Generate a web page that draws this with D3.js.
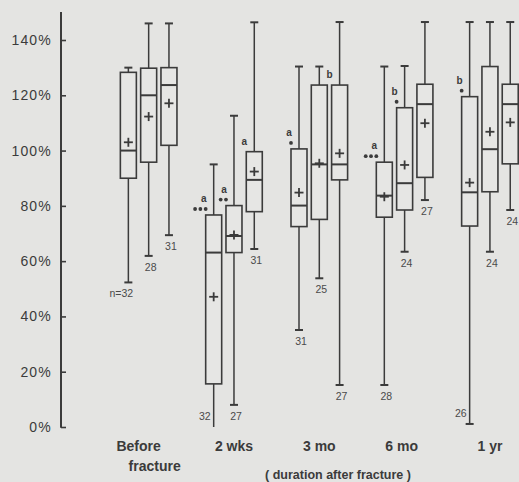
<!DOCTYPE html>
<html>
<head>
<meta charset="utf-8">
<script src="https://cdn.jsdelivr.net/npm/d3@7"></script>
<style>
  html, body { margin: 0; padding: 0; background: #e4e4e2; }
  svg { display: block; }
</style>
</head>
<body>
<svg id="chart" width="519" height="482"></svg>
<script>
// ---------- DATA ----------
const groups = ["Before fracture", "2 wks", "3 mo", "6 mo", "1 yr"];
const subIndex = [0, 1, 2];
const yTicks = [0, 20, 40, 60, 80, 100, 120, 140];

// 15 boxes: 3 per group, in group order
const boxGroup   = [0,0,0, 1,1,1, 2,2,2, 3,3,3, 4,4,4];
const boxSub     = [0,1,2, 0,1,2, 0,1,2, 0,1,2, 0,1,2];
const whiskerHigh = [130, 146, 146,   95, 112.6, 146.4,  130.4, 130.4, 146.5,  130.4, 130.6, 146.5,  146.5, 146.5, 146.5];
const q3          = [128.3, 129.8, 130, 76.7, 80.1, 99.6,  100.6, 123.7, 123.7,  95.8, 115.5, 124,    119.5, 130.4, 124];
const medians     = [100, 120, 123.7,  63.1, 69.1, 89.4,   80.1, 95, 95,        83.7, 88.2, 116.8,   84.9, 100.5, 116.8];
const q1          = [90, 95.8, 101.9,  15.6, 63.1, 77.9,   72.5, 75.1, 89.4,    75.9, 78.5, 90.3,    72.7, 85.1, 95.2];
const whiskerLow  = [52.3, 61.9, 69.4, 0, 8, 64.4,         35.1, 53.8, 15.2,    15.2, 63.4, 82.1,    1.1, 63.4, 78.5];
const means       = [103, 112.3, 117.1, 47.1, 69.5, 92.4,  84.8, 95.4, 99,      83.3, 94.8, 109.9,   88.4, 106.8, 110.2];
const nLabels     = ["n=32","28","31", "32","27","31", "31","25","27", "28","24","27", "26","24","24"];

// significance annotations: box index, letter, number of dots
const sigBox    = [3, 4, 5, 6, 8, 9, 10, 12];
const sigLetter = ["a","a","a","a","b","a","b","b"];
const sigDots   = [3, 2, 0, 1, 0, 3, 1, 1];

// ---------- LAYOUT ----------
const ink = "#3b3b3b";
const svg = d3.select("#chart");

const y = d3.scaleLinear().domain([0, 140]).range([427, 40]);
const x = d3.scaleBand().domain(groups).range([106, 532.6]).paddingInner(0).paddingOuter(0);
const sub = d3.scalePoint().domain(subIndex).range([-20.3, 20.3]);
const boxW = 16, capW = 8, plus = 4.5;

// label offsets (layout only)
const labelSide = ["left-below","below","below", "left","below","below", "below","below","below", "below","below","below", "left","below","below"];

const cx = i => x(groups[boxGroup[i]]) + x.bandwidth() / 2 + sub(boxSub[i]);

// ---------- AXIS ----------
const axisX = 61;
const yAxis = d3.axisRight(y).tickValues(yTicks).tickSize(5).tickFormat(d => d + "%");
const ga = svg.append("g").attr("transform", `translate(${axisX},0)`).call(yAxis);
ga.select(".domain").remove();
ga.selectAll(".tick line").attr("stroke", ink).attr("stroke-width", 1.6);
ga.selectAll(".tick text")
  .attr("x", -9).attr("text-anchor", "end")
  .attr("fill", ink)
  .style("font-family", "'Liberation Sans', Arial, sans-serif")
  .style("font-size", "14px")
  .style("letter-spacing", "1.2px");
svg.append("line").attr("x1", axisX).attr("x2", axisX).attr("y1", 12).attr("y2", y(0) + 0.8)
  .attr("stroke", ink).attr("stroke-width", 2);

// ---------- BOXES ----------
const idx = d3.range(whiskerHigh.length);
const gb = svg.append("g").attr("stroke", ink).attr("fill", "none");

// whiskers
gb.selectAll(".wh").data(idx).join("line")
  .attr("x1", cx).attr("x2", cx)
  .attr("y1", i => y(whiskerHigh[i])).attr("y2", i => y(q3[i]))
  .attr("stroke-width", 1.5);
gb.selectAll(".wl").data(idx).join("line")
  .attr("x1", cx).attr("x2", cx)
  .attr("y1", i => y(q1[i])).attr("y2", i => y(whiskerLow[i]))
  .attr("stroke-width", 1.5);
// caps
gb.selectAll(".ch").data(idx).join("line")
  .attr("x1", i => cx(i) - capW / 2).attr("x2", i => cx(i) + capW / 2)
  .attr("y1", i => y(whiskerHigh[i])).attr("y2", i => y(whiskerHigh[i]))
  .attr("stroke-width", 2);
gb.selectAll(".cl").data(idx.filter(i => whiskerLow[i] > 0)).join("line")
  .attr("x1", i => cx(i) - capW / 2).attr("x2", i => cx(i) + capW / 2)
  .attr("y1", i => y(whiskerLow[i])).attr("y2", i => y(whiskerLow[i]))
  .attr("stroke-width", 2);
// boxes
gb.selectAll(".bx").data(idx).join("rect")
  .attr("x", i => cx(i) - boxW / 2).attr("width", boxW)
  .attr("y", i => y(q3[i])).attr("height", i => y(q1[i]) - y(q3[i]))
  .attr("fill", "#e6e6e4").attr("stroke-width", 1.6);
// medians
gb.selectAll(".md").data(idx).join("line")
  .attr("x1", i => cx(i) - boxW / 2).attr("x2", i => cx(i) + boxW / 2)
  .attr("y1", i => y(medians[i])).attr("y2", i => y(medians[i]))
  .attr("stroke-width", 2);
// means (+)
gb.selectAll(".mh").data(idx).join("line")
  .attr("x1", i => cx(i) - plus).attr("x2", i => cx(i) + plus)
  .attr("y1", i => y(means[i])).attr("y2", i => y(means[i]))
  .attr("stroke-width", 1.8);
gb.selectAll(".mv").data(idx).join("line")
  .attr("x1", cx).attr("x2", cx)
  .attr("y1", i => y(means[i]) - plus).attr("y2", i => y(means[i]) + plus)
  .attr("stroke-width", 1.8);

// n labels
svg.append("g").selectAll("text").data(idx).join("text")
  .attr("x", i => {
    const s = labelSide[i];
    if (s === "left") return cx(i) - 3;
    if (s === "left-below") return cx(i) - 7;
    return cx(i) + 2;
  })
  .attr("y", i => {
    const s = labelSide[i];
    if (s === "left") return y(whiskerLow[i]) - 7;
    return y(whiskerLow[i]) + 15;
  })
  .attr("text-anchor", i => labelSide[i] === "left" ? "end" : "middle")
  .attr("fill", "#4a4a4a")
  .style("font-family", "'Liberation Sans', Arial, sans-serif")
  .style("font-size", "10.5px")
  .text(i => nLabels[i]);

// significance annotations
const sg = svg.append("g");
sigBox.forEach((b, k) => {
  const left = cx(b) - boxW / 2;
  const top = y(q3[b]);
  const nd = sigDots[k];
  const dotY = top - 6;
  for (let d = 0; d < nd; d++) {
    sg.append("circle").attr("cx", left - d * 5.3).attr("cy", dotY).attr("r", 1.9).attr("fill", ink);
  }
  sg.append("text")
    .attr("x", left - 2)
    .attr("y", nd > 0 ? dotY - 7 : top - 7)
    .attr("text-anchor", "middle")
    .attr("fill", ink)
    .style("font-family", "'Liberation Sans', Arial, sans-serif")
    .style("font-weight", "bold")
    .style("font-size", "10px")
    .text(sigLetter[k]);
});

// ---------- X LABELS ----------
const xl = svg.append("g").attr("fill", ink)
  .style("font-family", "'Liberation Sans', Arial, sans-serif")
  .style("font-weight", "bold")
  .style("font-size", "14px")
  .attr("text-anchor", "middle");
groups.forEach((g, i) => {
  const c = x(g) + x.bandwidth() / 2;
  if (i === 0) {
    xl.append("text").attr("x", c - 10).attr("y", 451).text("Before");
    xl.append("text").attr("x", c + 6).attr("y", 471).text("fracture");
  } else {
    xl.append("text").attr("x", c - (i === 3 ? 3 : 0)).attr("y", 451).text(g);
  }
});
xl.append("text").attr("x", 338).attr("y", 479)
  .style("font-size", "12.5px")
  .text("( duration after  fracture )");
</script>
</body>
</html>
